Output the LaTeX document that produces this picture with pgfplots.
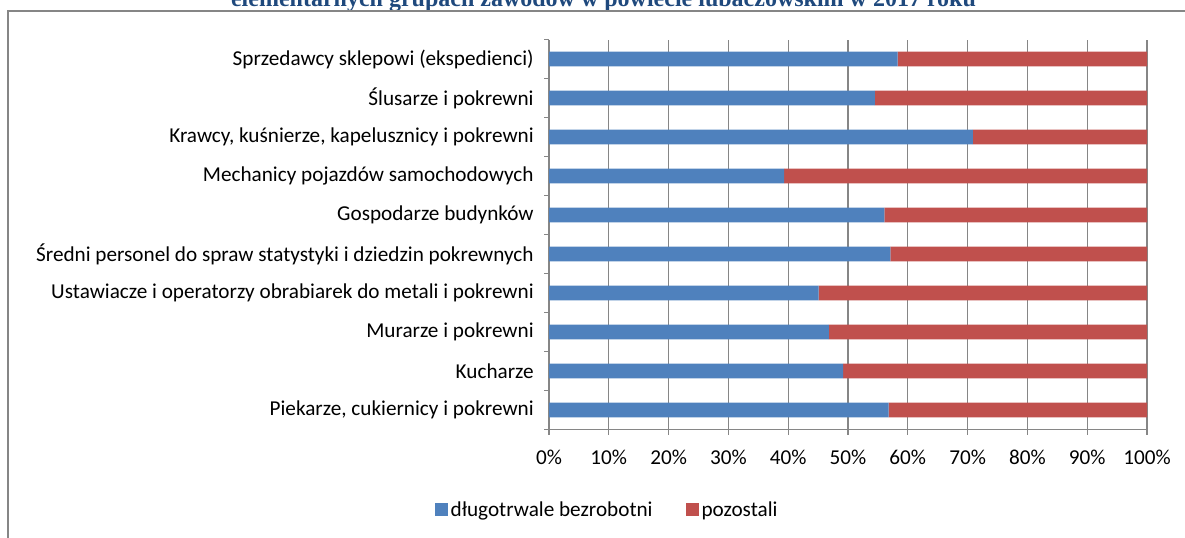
\documentclass[border=0pt]{standalone}
\usepackage{fontspec}
\setmainfont{Carlito}
\newfontfamily\titlefont{Liberation Serif}
\usepackage{pgfplots}
\pgfplotsset{compat=1.18}
\definecolor{sblue}{HTML}{4F81BD}
\definecolor{sred}{HTML}{C0504D}
\definecolor{gridgray}{HTML}{868686}
\definecolor{titleblue}{HTML}{1F497D}
\begin{document}
\begin{tikzpicture}[x=0.75pt,y=0.75pt]
\useasboundingbox (0,0) rectangle (1185,537);
\begin{scope}
\clip (0,0) rectangle (1185,537);
\node[anchor=base,inner sep=0pt,text=titleblue,font=\titlefont\bfseries\fontsize{18}{20}\selectfont] at (603.5,530) {elementarnych grupach zawodów w powiecie lubaczowskim w 2017 roku};
\end{scope}
\draw[gridgray,line width=1.1pt] (8,-2) -- (8,526) -- (1190,526);
\begin{axis}[
  at={(411.75pt,80.625pt)}, anchor=south west,
  scale only axis, width=448.5pt, height=292.5pt,
  xbar stacked, bar width=10.9pt,
  xmin=0, xmax=100, ymin=-0.5, ymax=9.5,
  axis x line=bottom, axis y line=left,
  axis line style={-, draw=gridgray, line width=0.8pt},
  xmajorgrids, grid style={draw=gridgray, line width=0.8pt},
  major tick length=0pt, minor tick length=3.75pt, tick align=outside,
  tick style={draw=gridgray, line width=0.8pt},
  xtick={0,10,...,100}, minor xtick={0,10,...,100},
  xticklabels={0\%,10\%,20\%,30\%,40\%,50\%,60\%,70\%,80\%,90\%,100\%},
  ytick={0,...,9}, minor ytick={-0.5,0.5,...,9.5},
  yticklabels={Piekarze{,} cukiernicy i pokrewni, Kucharze, Murarze i pokrewni,
    Ustawiacze i operatorzy obrabiarek do metali i pokrewni,
    Średni personel do spraw statystyki i dziedzin pokrewnych,
    Gospodarze budynków, Mechanicy pojazdów samochodowych,
    {Krawcy, kuśnierze, kapelusznicy i pokrewni},
    Ślusarze i pokrewni, Sprzedawcy sklepowi (ekspedienci)},
  ticklabel style={font=\fontsize{15.9}{18}\selectfont, text=black},
  yticklabel style={xshift=-8pt},
  xticklabel style={yshift=-11.5pt},
  legend style={at={(0.098,-0.206)}, anchor=center, draw=none, fill=none,
    legend columns=2, font=\fontsize{15.9}{18}\selectfont,
    /tikz/every even column/.append style={column sep=23pt},
    nodes={inner sep=2pt}},
  legend image code/.code={\fill[#1] (0pt,-4.875pt) rectangle (9.75pt,4.875pt);},
]
\addplot[fill=sblue, draw=none] coordinates {
 (56.8,0) (49.2,1) (46.8,2) (45.1,3) (57.1,4) (56.1,5) (39.3,6) (70.9,7) (54.5,8) (58.3,9)};
\addplot[fill=sred, draw=none] coordinates {
 (43.2,0) (50.8,1) (53.2,2) (54.9,3) (42.9,4) (43.9,5) (60.7,6) (29.1,7) (45.5,8) (41.7,9)};
\legend{długotrwale bezrobotni, pozostali}
\end{axis}
\end{tikzpicture}
\end{document}
